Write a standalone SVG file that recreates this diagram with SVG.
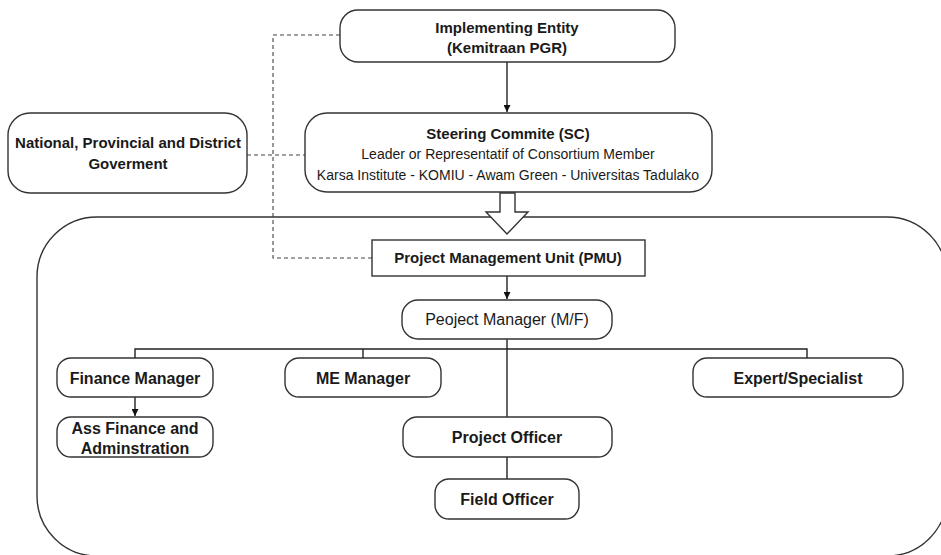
<svg xmlns="http://www.w3.org/2000/svg" width="941" height="555" viewBox="0 0 941 555">
<style>
.box{fill:#fff;stroke:#333;stroke-width:1.4}
.t{font-family:"Liberation Sans",Arial,sans-serif;fill:#1a1a1a;text-anchor:middle}
.b{font-weight:bold;font-size:15px}
.b16{font-weight:bold;font-size:16px}
.r{font-size:14px}
.ln{fill:none;stroke:#222;stroke-width:1.4}
.dash{fill:none;stroke:#444;stroke-width:1.1;stroke-dasharray:4 3}
</style>
<defs>
<marker id="ah" viewBox="0 0 10 10" refX="10" refY="5" markerWidth="7" markerHeight="7" markerUnits="userSpaceOnUse" orient="auto">
<path d="M0,0 L10,5 L0,10 z" fill="#111"/>
</marker>
</defs>
<rect width="941" height="555" fill="#fff"/>
<g id="container">
<rect class="box" x="37" y="217" width="910" height="339" rx="60" ry="60" stroke-width="1.6"/>
</g>
<g id="connectors">
<path class="dash" d="M340,35 H273 V258 H372"/>
<path class="dash" d="M247,155 H305"/>
<path class="ln" d="M507,62 V112" marker-end="url(#ah)"/>
<polygon class="box" points="500,193 515,193 515,212 528,212 507,234 486,212 500,212"/>
<path class="ln" d="M507,276 V299" marker-end="url(#ah)"/>
<path class="ln" d="M507,339 V417"/>
<path class="ln" d="M135,358 V349 H807 V358"/>
<path class="ln" d="M363,349 V358"/>
<path class="ln" d="M135,397 V416" marker-end="url(#ah)"/>
<path class="ln" d="M507,457 V479"/>
</g>
<g id="implementing-entity">
<rect class="box" x="340" y="10" width="335" height="52" rx="18"/>
<text class="t b" x="507" y="33">Implementing Entity</text>
<text class="t b" x="507" y="53">(Kemitraan PGR)</text>
</g>
<g id="government">
<rect class="box" x="8" y="113" width="239" height="80" rx="22"/>
<text class="t b" x="128" y="148">National, Provincial and District</text>
<text class="t b" x="128" y="169">Goverment</text>
</g>
<g id="steering-committee">
<rect class="box" x="305" y="113" width="407" height="79" rx="22"/>
<text class="t b" x="508" y="139">Steering Commite (SC)</text>
<text class="t r" x="508" y="159">Leader or Representatif of Consortium Member</text>
<text class="t r" x="508" y="180">Karsa Institute - KOMIU - Awam Green - Universitas Tadulako</text>
</g>
<g id="pmu">
<rect class="box" x="372" y="240" width="273" height="36"/>
<text class="t b" font-size="15.5" x="508" y="263">Project Management Unit (PMU)</text>
</g>
<g id="project-manager">
<rect class="box" x="402" y="300" width="210" height="39" rx="16"/>
<text class="t" font-size="16" x="507" y="325">Peoject Manager (M/F)</text>
</g>
<g id="finance-manager">
<rect class="box" x="57" y="358" width="156" height="39" rx="14"/>
<text class="t b16" x="135" y="383.5">Finance Manager</text>
</g>
<g id="me-manager">
<rect class="box" x="285" y="358" width="156" height="39" rx="14"/>
<text class="t b16" x="363" y="383.5">ME Manager</text>
</g>
<g id="expert">
<rect class="box" x="693" y="358" width="210" height="39" rx="14"/>
<text class="t b16" x="798" y="383.5">Expert/Specialist</text>
</g>
<g id="ass-finance">
<rect class="box" x="57" y="417" width="156" height="40" rx="14"/>
<text class="t b16" x="135" y="433.5">Ass Finance and</text>
<text class="t b16" x="135" y="453.5">Adminstration</text>
</g>
<g id="project-officer">
<rect class="box" x="403" y="417" width="209" height="40" rx="14"/>
<text class="t b16" x="507" y="443">Project Officer</text>
</g>
<g id="field-officer">
<rect class="box" x="435" y="479" width="144" height="40" rx="14"/>
<text class="t b16" x="507" y="505">Field Officer</text>
</g>
</svg>
